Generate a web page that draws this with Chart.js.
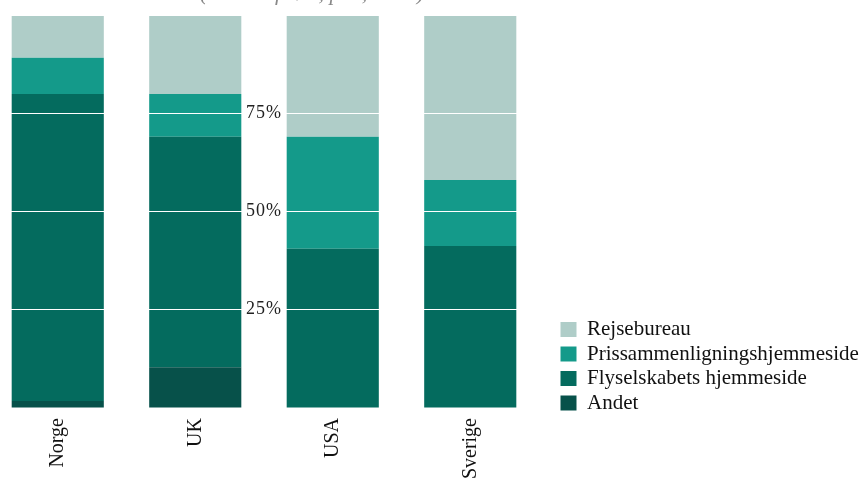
<!DOCTYPE html>
<html>
<head>
<meta charset="utf-8">
<script src="https://cdn.jsdelivr.net/npm/chart.js@4/dist/chart.umd.min.js"></script>
<style>
  html, body { margin: 0; padding: 0; background: #fff; overflow: hidden; }
  #wrap { position: absolute; left: -11px; top: 0; width: 878px; height: 480px; }
</style>
</head>
<body>
<div id="wrap"><canvas id="chart"></canvas></div>
<script>
// Data
const lande = ['Norge', 'UK', 'USA', 'Sverige'];
const andet = [1.8, 10.4, 0, 0];
const flyselskab = [78.1, 58.6, 40.5, 41.2];
const prissammenligning = [9.2, 10.9, 28.5, 16.8];
const rejsebureau = [10.9, 20.1, 31.0, 42.0];
const yTicks = [25, 50, 75];
const titel = '(Andel af køb, pct., 2019)';

const serif = '"Liberation Serif", "Times New Roman", serif';

// Y-akse labels tegnes midt mellem UK og USA
const midtLabels = {
    id: 'midtLabels',
    afterLayout(chart) {
        // flyt legend lidt ned, så den slutter under søjlerne
        const lg = chart.legend;
        if (lg) { lg.top += 9; lg.bottom += 9; }
    },
    afterDraw(chart) {
        const ctx = chart.ctx;
        const x = chart.scales.x;
        const y = chart.scales.y;
        const cx = (x.getPixelForValue(1) + x.getPixelForValue(2)) / 2;
        ctx.save();
        ctx.font = '18px ' + serif;
        ctx.fillStyle = '#222';
        ctx.textAlign = 'center';
        ctx.textBaseline = 'middle';
        if ('letterSpacing' in ctx) ctx.letterSpacing = '1px';
        yTicks.forEach(v => ctx.fillText(v + '%', cx, y.getPixelForValue(v)));
        if ('letterSpacing' in ctx) ctx.letterSpacing = '0px';
        // afskåret titel i toppen
        ctx.font = 'italic 22px ' + serif;
        ctx.fillStyle = '#888';
        ctx.textBaseline = 'alphabetic';
        ctx.fillText(titel, 323, 0);
        ctx.restore();
    }
};

new Chart(document.getElementById('chart'), {
    type: 'bar',
    data: {
        labels: lande,
        datasets: [
            { label: 'Andet', data: andet, backgroundColor: '#07514a' },
            { label: 'Flyselskabets hjemmeside', data: flyselskab, backgroundColor: '#046b5e' },
            { label: 'Prissammenligningshjemmeside', data: prissammenligning, backgroundColor: '#149a8a' },
            { label: 'Rejsebureau', data: rejsebureau, backgroundColor: '#afcdc8' }
        ]
    },
    options: {
        responsive: true,
        maintainAspectRatio: false,
        animation: false,
        barPercentage: 0.67,
        categoryPercentage: 1,
        layout: { padding: { top: 15 } },
        scales: {
            x: {
                stacked: true,
                grid: { display: false, drawTicks: false },
                border: { display: false },
                ticks: {
                    minRotation: 90, maxRotation: 90, padding: 10,
                    color: '#111',
                    font: { family: serif, size: 20 }
                },
                afterFit: (scale) => { scale.height = 72; }
            },
            y: {
                stacked: true,
                position: 'right',
                min: 0, max: 100,
                grid: { color: '#ffffff', lineWidth: 1, drawTicks: false, z: 1 },
                border: { display: false },
                ticks: { display: false, stepSize: 25 },
                afterFit: (scale) => { scale.width = 18; }
            }
        },
        plugins: {
            tooltip: { enabled: false },
            legend: {
                position: 'right',
                align: 'end',
                fullSize: false,
                reverse: true,
                maxWidth: 310,
                labels: {
                    boxWidth: 16, boxHeight: 15, padding: 3.5,
                    color: '#111',
                    font: { family: serif, size: 21 }
                }
            }
        }
    },
    plugins: [midtLabels]
});
</script>
</body>
</html>
